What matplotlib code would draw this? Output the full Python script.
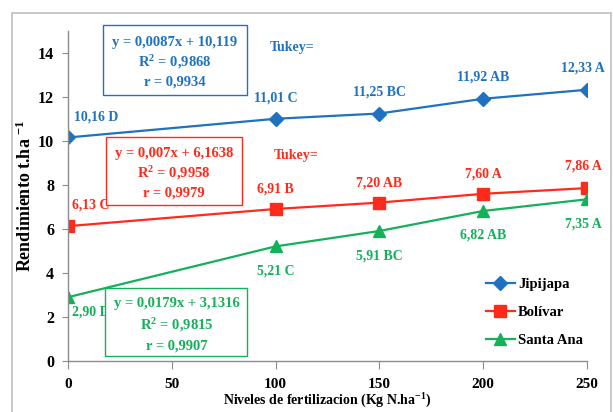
import matplotlib
matplotlib.use("Agg")
import matplotlib.pyplot as plt
from matplotlib.patches import Rectangle

plt.rcParams['font.family'] = ['Liberation Serif', 'DejaVu Serif']
plt.rcParams['font.weight'] = 'bold'
plt.rcParams['mathtext.fontset'] = 'custom'
plt.rcParams['mathtext.rm'] = 'Liberation Serif:bold'
plt.rcParams['mathtext.it'] = 'Liberation Serif:bold'
plt.rcParams['mathtext.bf'] = 'Liberation Serif:bold'

niveles = [0, 100, 150, 200, 250]
jipijapa = [10.16, 11.01, 11.25, 11.92, 12.33]
bolivar = [6.13, 6.91, 7.20, 7.60, 7.86]
santa_ana = [2.90, 5.21, 5.91, 6.82, 7.35]
tukey_jipi = ["D", "C", "BC", "AB", "A"]
tukey_boli = ["C", "B", "AB", "A", "A"]
tukey_sana = ["D", "C", "BC", "AB", "A"]

eq_jipi = ["y = 0,0087x + 10,119", "R$^2$ = 0,9868", "r = 0,9934"]
eq_boli = ["y = 0,007x + 6,1638", "R$^2$ = 0,9958", "r = 0,9979"]
eq_sana = ["y = 0,0179x + 3,1316", "R$^2$ = 0,9815", "r = 0,9907"]

BLUE = '#1F72C2'
RED = '#FF2A1A'
GREEN = '#14B05A'

fig = plt.figure(figsize=(6.13, 4.12), dpi=100)
ax = fig.add_axes([68/613, 51/412, 519/613, 330/412])

fig.patches.append(Rectangle((12/613, -0.02), 599/613, (412-13)/412 + 0.02,
                             transform=fig.transFigure, fill=False,
                             edgecolor='#BFBFBF', linewidth=1.2))

ax.plot(niveles, jipijapa, color=BLUE, marker='D', markersize=7, lw=1.6, label='Jipijapa')
ax.plot(niveles, bolivar, color=RED, marker='s', markersize=8, lw=1.6, label='Bolívar')
ax.plot(niveles, santa_ana, color=GREEN, marker='^', markersize=8, lw=1.6, label='Santa Ana')

def labels(vals, letters, color, offsets, fs=10):
    for i, (x, v, t) in enumerate(zip(niveles, vals, letters)):
        dx, dy, ha = offsets[i]
        txt = f"{v:.2f}".replace('.', ',') + " " + t
        ax.annotate(txt, (x, v), xytext=(dx, dy), textcoords='offset pixels',
                    ha=ha, va='center', color=color, fontsize=fs, fontweight='bold',
                    annotation_clip=False)

labels(jipijapa, tukey_jipi, BLUE,
       [(6, 20, 'left'), (0, 21, 'center'), (0, 21, 'center'), (0, 22, 'center'), (-4, 22, 'center')])
labels(bolivar, tukey_boli, RED,
       [(4, 21, 'left'), (0, 20, 'center'), (0, 20, 'center'), (0, 20, 'center'), (-4, 22, 'center')])
labels(santa_ana, tukey_sana, GREEN,
       [(4, -15, 'left'), (0, -25, 'center'), (0, -25, 'center'), (0, -24, 'center'), (-4, -25, 'center')])

def px2ax(px, py):
    return (px - 68) / 519, (361 - py) / 330

def eq_box(lines, color, box, xc, ys):
    x0, y0 = px2ax(box[0], box[3])
    x1, y1 = px2ax(box[2], box[1])
    ax.add_patch(Rectangle((x0, y0), x1 - x0, y1 - y0, transform=ax.transAxes,
                           fill=True, facecolor='white', edgecolor=color,
                           linewidth=1.0, clip_on=False, zorder=4))
    for line, py in zip(lines, ys):
        xa, ya = px2ax(xc, py)
        ax.text(xa, ya, line, transform=ax.transAxes, ha='center', va='center',
                color=color, fontsize=10.5, fontweight='bold', zorder=5)

eq_box(eq_jipi, BLUE, (103, 25, 247, 95), 175, (42, 62, 82))
eq_box(eq_boli, RED, (106, 137, 242, 205), 174, (153, 173, 193))
eq_box(eq_sana, GREEN, (105, 288, 247, 356), 177, (304, 325, 346))

tx, ty = px2ax(292, 47)
ax.text(tx, ty, "Tukey=", transform=ax.transAxes, ha='center', va='center',
        color=BLUE, fontsize=10, fontweight='bold')
tx, ty = px2ax(296, 155)
ax.text(tx, ty, "Tukey=", transform=ax.transAxes, ha='center', va='center',
        color=RED, fontsize=10, fontweight='bold')

ax.set_xlim(0, 250)
ax.set_ylim(0, 15)
ax.set_xticks([0, 50, 100, 150, 200, 250])
ax.set_yticks([0, 2, 4, 6, 8, 10, 12, 14])
ax.spines['top'].set_visible(False)
ax.spines['right'].set_visible(False)
for s in ['left', 'bottom']:
    ax.spines[s].set_color('#8C8C8C')
    ax.spines[s].set_linewidth(1.0)
ax.tick_params(axis='y', direction='out', length=4, color='#8C8C8C', labelsize=11.5, pad=6)
ax.tick_params(axis='x', direction='out', length=6, color='#8C8C8C', labelsize=11, pad=6)
for lab in ax.get_xticklabels() + ax.get_yticklabels():
    lab.set_fontweight('bold')

ax.set_ylabel("Rendimiento t.ha $^{-1}$", fontsize=13, fontweight='bold', labelpad=2)
ax.set_xlabel("Niveles de fertilizacion (Kg N.ha$^{-1}$)", fontsize=10,
              fontweight='bold', labelpad=1)

leg = ax.legend(loc='upper left', bbox_to_anchor=px2ax(480, 272), frameon=False,
                fontsize=10.5, labelspacing=1.0, handlelength=2.0, handletextpad=0.2,
                borderaxespad=0)
for t in leg.get_texts():
    t.set_fontweight('bold')

fig.savefig("out.png", dpi=100)
